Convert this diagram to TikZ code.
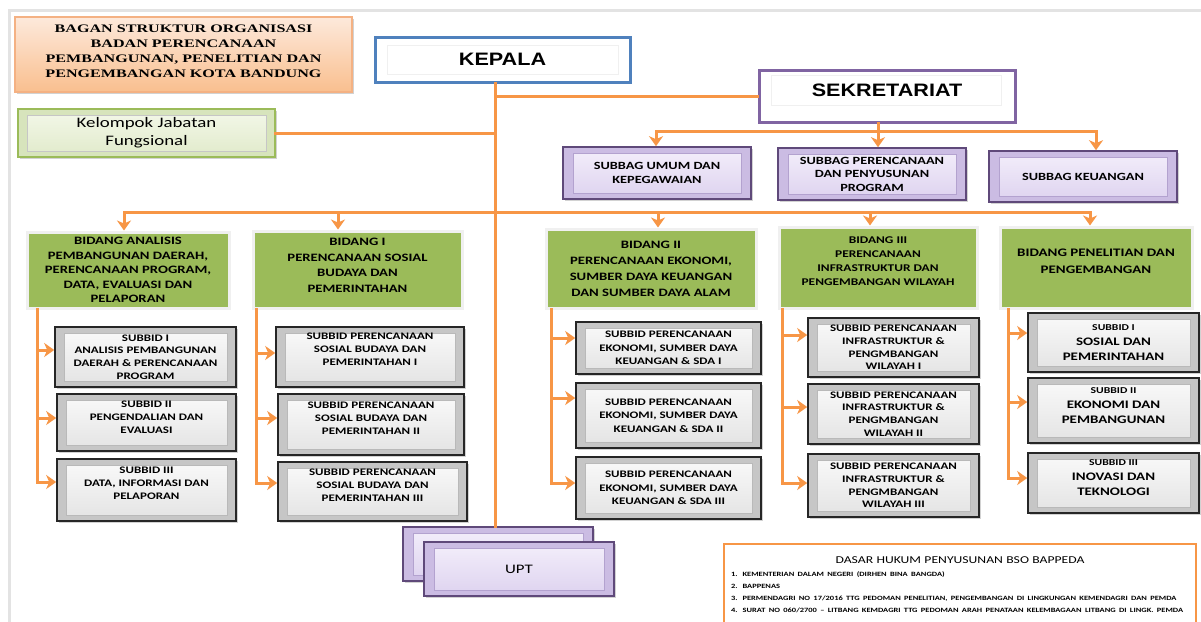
\documentclass[tikz,border=0pt]{standalone}
\usepackage{fontspec}
\setmainfont[FakeStretch=1.3]{Carlito}
\newfontfamily\titlefont[FakeStretch=1.4]{Liberation Serif}
\newfontfamily\headfont[FakeStretch=1.2]{Liberation Sans}
\usetikzlibrary{arrows.meta,shadows}
\definecolor{ol}{HTML}{F79646}
\definecolor{kblue}{HTML}{4F81BD}
\definecolor{spurple}{HTML}{8064A2}
\definecolor{dpurple}{HTML}{5F497A}
\definecolor{lav}{HTML}{CBBCE3}
\definecolor{lavtop}{HTML}{F4EFFB}
\definecolor{lavbot}{HTML}{DDD2EF}
\definecolor{lavline}{HTML}{B3A2CF}
\definecolor{bgreen}{HTML}{9BBB59}
\definecolor{lgreen}{HTML}{D7E4BC}
\definecolor{lgreentop}{HTML}{F4F8EA}
\definecolor{lgreenbot}{HTML}{E0EACA}
\definecolor{peachtop}{HTML}{FDE9DB}
\definecolor{peachbot}{HTML}{F9BF8F}
\definecolor{peachline}{HTML}{F4B183}
\tikzset{
  line/.style={draw=ol, line width=3pt, line cap=rect},
  arr/.style={line, -{Stealth[length=10pt,width=14pt,inset=3pt]}},
  box/.style={rectangle, align=center, inner sep=2pt},
  shad/.style={drop shadow={shadow xshift=2pt, shadow yshift=-2pt, opacity=.35}},
  bevel/.style n args={4}{path picture={
      \draw[draw=#1, line width=1pt, top color=#2, bottom color=#3]
        ([shift={(#4,-6pt)}]path picture bounding box.north west) rectangle
        ([shift={(-#4,6pt)}]path picture bounding box.south east);}},
  subbidbox/.style={box, draw=black!85, line width=1.6pt, fill=gray!45, shad,
      bevel={gray!55}{white!96!gray}{gray!22}{9pt},
      font=\bfseries\fontsize{10}{12.8}\selectfont},
  subbagbox/.style={box, draw=dpurple, line width=1.6pt, fill=lav, shad,
      bevel={lavline}{lavtop}{lavbot}{10pt},
      font=\bfseries\fontsize{11}{13.5}\selectfont},
  bidangbox/.style={box, fill=bgreen, draw=gray!12, line width=3pt,
      drop shadow={shadow xshift=2pt, shadow yshift=-1.5pt, opacity=.3},
      font=\bfseries\fontsize{11.3}{14.5}\selectfont},
}
\begin{document}
\begin{tikzpicture}[x=1pt,y=-1pt]
\useasboundingbox (0,0) rectangle (1201,621);
\clip (0,0) rectangle (1201,621);
\fill[white] (0,0) rectangle (1201,621);
\draw[gray!22, line width=3pt] (9,640) -- (9,10) -- (1220,10);

% title
\node[box, draw=peachline, line width=1.2pt, top color=peachtop, bottom color=peachbot, shad,
      minimum width=337pt, minimum height=75pt, text depth=7pt,
      font=\titlefont\bfseries\fontsize{11.5}{15}\selectfont] (title) at (183.5,54.5)
  {BAGAN STRUKTUR ORGANISASI\\BADAN PERENCANAAN\\PEMBANGUNAN, PENELITIAN DAN\\PENGEMBANGAN KOTA BANDUNG};

% kepala
\node[box, draw=kblue, line width=3pt, fill=white, minimum width=255pt, minimum height=45pt,
      path picture={\draw[gray!12, line width=.8pt]
        ([shift={(12pt,-8pt)}]path picture bounding box.north west) rectangle
        ([shift={(-12pt,8pt)}]path picture bounding box.south east);},
      font=\headfont\bfseries\fontsize{18}{20}\selectfont] (kepala) at (502.5,59.5) {KEPALA};

% kelompok
\node[box, draw=bgreen, line width=1.6pt, fill=lgreen, shad,
      bevel={gray!45}{lgreentop}{lgreenbot}{9pt},
      minimum width=257pt, minimum height=48pt,
      font=\fontsize{14.5}{18}\selectfont] (kel) at (146.5,133) {Kelompok Jabatan\\Fungsional};

% sekretariat
\node[box, draw=spurple, line width=3pt, fill=white, minimum width=256pt, minimum height=52pt,
      text height=13pt, text depth=12pt,
      path picture={\draw[gray!12, line width=.8pt]
        ([shift={(12pt,-5pt)}]path picture bounding box.north west) rectangle
        ([shift={(-14pt,17pt)}]path picture bounding box.south east);},
      font=\headfont\bfseries\fontsize{18}{20}\selectfont] (sek) at (887,96) {SEKRETARIAT};

% subbag
\node[subbagbox, minimum width=188pt, minimum height=52pt] (sb1) at (657,173) {SUBBAG UMUM DAN\\KEPEGAWAIAN};
\node[subbagbox, minimum width=188pt, minimum height=52pt] (sb2) at (872,174) {SUBBAG PERENCANAAN\\DAN PENYUSUNAN\\PROGRAM};
\node[subbagbox, minimum width=188pt, minimum height=51pt] (sb3) at (1083,176.5) {SUBBAG KEUANGAN};

% bidang
\node[bidangbox, minimum width=202pt, minimum height=76pt] (bid1) at (128,270)
  {BIDANG ANALISIS\\PEMBANGUNAN DAERAH,\\PERENCANAAN PROGRAM,\\DATA, EVALUASI DAN\\PELAPORAN};
\node[bidangbox, minimum width=209pt, minimum height=77pt, text depth=8pt, font=\bfseries\fontsize{11.3}{15.5}\selectfont] (bid2) at (357.5,269.5)
  {BIDANG I\\PERENCANAAN SOSIAL\\BUDAYA DAN\\PEMERINTAHAN};
\node[bidangbox, minimum width=210pt, minimum height=79pt, font=\bfseries\fontsize{11.3}{16}\selectfont] (bid3) at (651,268.5)
  {BIDANG II\\PERENCANAAN EKONOMI,\\SUMBER DAYA KEUANGAN\\DAN SUMBER DAYA ALAM};
\node[bidangbox, minimum width=198pt, minimum height=81pt, text depth=13pt, font=\bfseries\fontsize{10.3}{14}\selectfont] (bid4) at (878,267.5)
  {BIDANG III\\PERENCANAAN\\INFRASTRUKTUR DAN\\PENGEMBANGAN WILAYAH};
\node[bidangbox, minimum width=192pt, minimum height=81pt, text depth=12pt, font=\bfseries\fontsize{11.5}{17}\selectfont] (bid5) at (1096,267.5)
  {BIDANG PENELITIAN DAN\\PENGEMBANGAN};

% subbid column 1
\node[subbidbox, minimum width=181pt, minimum height=60pt] (s11) at (145.5,357)
  {SUBBID I\\ANALISIS PEMBANGUNAN\\DAERAH \& PERENCANAAN\\PROGRAM};
\node[subbidbox, minimum width=179pt, minimum height=57pt, text depth=11pt] (s12) at (146.5,422.5)
  {SUBBID II\\PENGENDALIAN DAN\\EVALUASI};
\node[subbidbox, minimum width=179pt, minimum height=62pt, text depth=14pt] (s13) at (146.5,490)
  {SUBBID III\\DATA, INFORMASI DAN\\PELAPORAN};
% column 2
\node[subbidbox, minimum width=188pt, minimum height=60pt, text depth=15pt] (s21) at (370,357)
  {SUBBID PERENCANAAN\\SOSIAL BUDAYA DAN\\PEMERINTAHAN I};
\node[subbidbox, minimum width=186pt, minimum height=61pt, text depth=13pt] (s22) at (371,424.5)
  {SUBBID PERENCANAAN\\SOSIAL BUDAYA DAN\\PEMERINTAHAN II};
\node[subbidbox, minimum width=189pt, minimum height=59pt, text depth=13pt] (s23) at (372.5,491.5)
  {SUBBID PERENCANAAN\\SOSIAL BUDAYA DAN\\PEMERINTAHAN III};
% column 3
\node[subbidbox, minimum width=185pt, minimum height=52pt, font=\bfseries\fontsize{10}{13.5}\selectfont] (s31) at (668.5,348)
  {SUBBID PERENCANAAN\\EKONOMI, SUMBER DAYA\\KEUANGAN \& SDA I};
\node[subbidbox, minimum width=185pt, minimum height=65pt, font=\bfseries\fontsize{10}{13.5}\selectfont] (s32) at (668.5,415.5)
  {SUBBID PERENCANAAN\\EKONOMI, SUMBER DAYA\\KEUANGAN \& SDA II};
\node[subbidbox, minimum width=185pt, minimum height=62pt, font=\bfseries\fontsize{10}{13.5}\selectfont] (s33) at (668.5,488)
  {SUBBID PERENCANAAN\\EKONOMI, SUMBER DAYA\\KEUANGAN \& SDA III};
% column 4
\node[subbidbox, minimum width=171pt, minimum height=59pt] (s41) at (893.5,347.5)
  {SUBBID PERENCANAAN\\INFRASTRUKTUR \&\\PENGMBANGAN\\WILAYAH I};
\node[subbidbox, minimum width=171pt, minimum height=60pt] (s42) at (893.5,414)
  {SUBBID PERENCANAAN\\INFRASTRUKTUR \&\\PENGMBANGAN\\WILAYAH II};
\node[subbidbox, minimum width=171pt, minimum height=63pt] (s43) at (893.5,485.5)
  {SUBBID PERENCANAAN\\INFRASTRUKTUR \&\\PENGMBANGAN\\WILAYAH III};
% column 5
\node[subbidbox, minimum width=171pt, minimum height=59pt, font=\bfseries\fontsize{11.5}{15}\selectfont] (s51) at (1113.5,342.5)
  {{\fontsize{9}{15}\selectfont SUBBID I}\\SOSIAL DAN\\PEMERINTAHAN};
\node[subbidbox, minimum width=171pt, minimum height=65pt, text depth=10pt, font=\bfseries\fontsize{11.5}{15}\selectfont] (s52) at (1113.5,410.5)
  {{\fontsize{9}{15}\selectfont SUBBID II}\\EKONOMI DAN\\PEMBANGUNAN};
\node[subbidbox, minimum width=171pt, minimum height=60pt, text depth=10pt, font=\bfseries\fontsize{11.5}{15}\selectfont] (s53) at (1113.5,483)
  {{\fontsize{9}{15}\selectfont SUBBID III}\\INOVASI DAN\\TEKNOLOGI};

% UPT
\node[subbagbox, minimum width=190pt, minimum height=54pt] (upt1) at (498,554) {};
\node[subbagbox, minimum width=190pt, minimum height=54pt, font=\fontsize{13}{15}\selectfont] (upt2) at (519,569) {UPT};

% dasar hukum
\node[draw=ol, line width=2pt, fill=white, anchor=north west, align=left,
      text width=458pt, inner xsep=7pt, inner ysep=13pt] (hukum) at (723,543)
  {{\centering\fontsize{10.5}{13}\selectfont DASAR HUKUM PENYUSUNAN BSO BAPPEDA\par}\vspace{1pt}
   {\bfseries\fontsize{6.5}{11.8}\selectfont
   1. KEMENTERIAN DALAM NEGERI (DIRHEN BINA BANGDA)\par
   2. BAPPENAS\par
   3. PERMENDAGRI NO 17/2016 TTG PEDOMAN PENELITIAN, PENGEMBANGAN DI LINGKUNGAN KEMENDAGRI DAN PEMDA\par
   4. SURAT NO 060/2700 -- LITBANG KEMDAGRI TTG PEDOMAN ARAH PENATAAN KELEMBAGAAN LITBANG DI LINGK. PEMDA\par}};

% ---------------- connectors
\coordinate (jS) at (495,96);
\draw[line] (kepala.south -| jS) -- (upt1.north -| jS);
\draw[line] (jS) -- (sek.west);
\draw[line] (kel.east) -- (kel.east -| jS);

\coordinate (sJ) at (878,131);
\coordinate (sL) at (656,131);
\coordinate (sR) at (1096,131);
\draw[line] (sek.south -| sJ) -- (sJ);
\draw[line] (sL) -- (sR);
\draw[arr] (sL) -- (sL |- sb1.north);
\draw[arr] (sJ) -- (sJ |- sb2.north);
\draw[arr] (sR) -- (sR |- sb3.north);

\coordinate (b1) at (124,212);
\coordinate (b2) at (338,212);
\coordinate (b3) at (658,212);
\coordinate (b4) at (870,212);
\coordinate (b5) at (1090,212);
\draw[line] (b1) -- (b5);
\draw[arr] (b1) -- (b1 |- bid1.north);
\draw[arr] (b2) -- (b2 |- bid2.north);
\draw[arr] (b3) -- (b3 |- bid3.north);
\draw[arr] (b4) -- (b4 |- bid4.north);
\draw[arr] (b5) -- (b5 |- bid5.north);

% column brackets
\coordinate (c11) at (37,350); \coordinate (c12) at (37,418); \coordinate (c13) at (37,482);
\draw[arr] (c11 |- bid1.south) -- (c13) -- (c13 -| s13.west);
\draw[arr] (c11) -- (c11 -| s11.west);
\draw[arr] (c12) -- (c12 -| s12.west);

\coordinate (c21) at (256,353); \coordinate (c22) at (256,418); \coordinate (c23) at (256,483);
\draw[arr] (c21 |- bid2.south) -- (c23) -- (c23 -| s23.west);
\draw[arr] (c21) -- (c21 -| s21.west);
\draw[arr] (c22) -- (c22 -| s22.west);

\coordinate (c31) at (551,338); \coordinate (c32) at (551,398); \coordinate (c33) at (551,483);
\draw[arr] (c31 |- bid3.south) -- (c33) -- (c33 -| s33.west);
\draw[arr] (c31) -- (c31 -| s31.west);
\draw[arr] (c32) -- (c32 -| s32.west);

\coordinate (c41) at (782,335); \coordinate (c42) at (782,407); \coordinate (c43) at (782,483);
\draw[arr] (c41 |- bid4.south) -- (c43) -- (c43 -| s43.west);
\draw[arr] (c41) -- (c41 -| s41.west);
\draw[arr] (c42) -- (c42 -| s42.west);

\coordinate (c51) at (1008,333); \coordinate (c52) at (1008,402); \coordinate (c53) at (1008,478);
\draw[arr] (c51 |- bid5.south) -- (c53) -- (c53 -| s53.west);
\draw[arr] (c51) -- (c51 -| s51.west);
\draw[arr] (c52) -- (c52 -| s52.west);
\end{tikzpicture}
\end{document}
